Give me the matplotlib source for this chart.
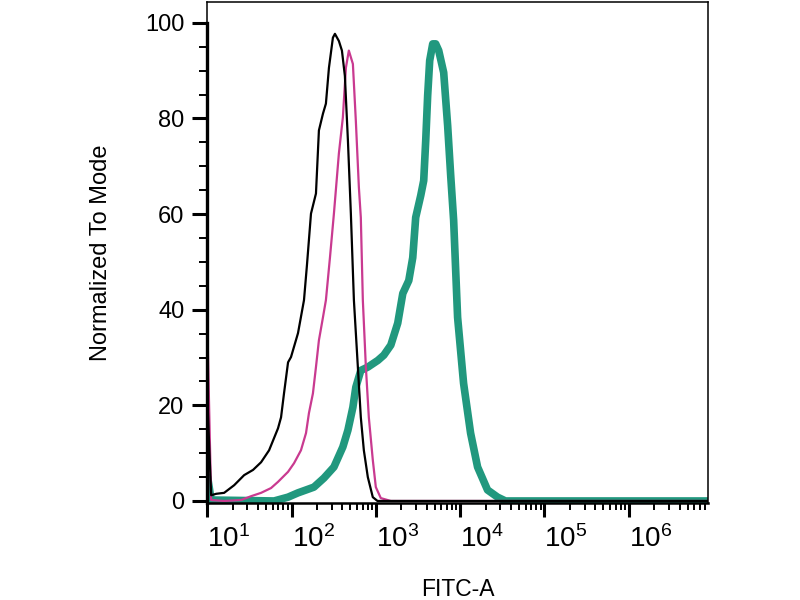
import numpy as np
import matplotlib
matplotlib.use("Agg")
import matplotlib.pyplot as plt
from matplotlib.ticker import LogLocator, MultipleLocator, NullFormatter

plt.rcParams['font.family'] = ['Liberation Sans', 'DejaVu Sans']
plt.rcParams['mathtext.fontset'] = 'custom'
plt.rcParams['mathtext.rm'] = 'Liberation Sans'
plt.rcParams['mathtext.it'] = 'Liberation Sans'

# FITC-A positions given as log10 of intensity, y as % of mode
black_log = [1.005, 1.047, 1.107, 1.201, 1.320, 1.438, 1.544, 1.639, 1.734, 1.840,
             1.876, 1.911, 1.959, 1.994, 2.077, 2.148, 2.183, 2.231, 2.290, 2.325,
             2.373, 2.408, 2.444, 2.491, 2.515, 2.562, 2.598, 2.633, 2.669, 2.704,
             2.740, 2.787, 2.822, 2.858, 2.905, 2.964, 3.02, 6.95]
black_y = [20, 1.2, 1.5, 1.7, 3.3, 5.4, 6.5, 8.1, 10.6, 15.2,
           17.5, 22.5, 29.0, 30.1, 35.1, 42.0, 49.3, 60.1, 64.3, 77.5,
           81.0, 83.1, 90.6, 96.9, 97.7, 96.2, 94.2, 88.9, 75.4, 60.1,
           42.0, 28.0, 17.5, 10.6, 5.0, 0.8, 0, 0]

magenta_log = [1.005, 1.047, 1.201, 1.402, 1.521, 1.639, 1.757, 1.840, 1.959, 2.030,
               2.112, 2.172, 2.207, 2.254, 2.290, 2.325, 2.373, 2.408, 2.456, 2.503,
               2.562, 2.609, 2.645, 2.680, 2.728, 2.763, 2.799, 2.822, 2.846, 2.882,
               2.917, 2.964, 3.0, 3.059, 3.178, 3.33, 6.95]
magenta_y = [34, 0.2, 0, 0.2, 1.0, 1.7, 2.7, 4.0, 6.1, 7.9,
             10.6, 14.2, 18.4, 22.5, 28.0, 33.6, 38.4, 42.0, 50.9, 60.1,
             72.7, 80.2, 90.6, 94.2, 91.4, 79.5, 65.6, 59.3, 42.0, 28.0,
             17.5, 8.6, 2.9, 0.6, 0, 0, 0]

teal_log = [1.005, 1.047, 1.793, 1.959, 2.077, 2.172, 2.266, 2.385, 2.503, 2.609,
            2.669, 2.728, 2.763, 2.822, 2.905, 3.024, 3.095, 3.178, 3.260, 3.320,
            3.391, 3.438, 3.473, 3.533, 3.568, 3.592, 3.615, 3.639, 3.675, 3.710,
            3.746, 3.805, 3.852, 3.888, 3.923, 3.970, 4.041, 4.124, 4.207, 4.325,
            4.444, 4.538, 6.95]
teal_y = [5, 0.2, 0, 0.8, 1.7, 2.3, 2.9, 4.8, 7.1, 11.3,
          14.8, 19.6, 23.8, 27.3, 28.0, 29.4, 30.5, 32.6, 37.2, 43.4,
          46.1, 50.9, 59.3, 63.9, 67.0, 75.4, 84.8, 92.1, 95.6, 95.6,
          94.2, 89.6, 78.5, 68.1, 58.7, 38.4, 24.6, 14.2, 7.1, 2.3,
          0.8, 0, 0]

decades = [1, 2, 3, 4, 5, 6]

fig = plt.figure(figsize=(8, 6), dpi=100)
ax = fig.add_axes([0.259, 0.1617, 0.626, 0.8353])

ax.plot(10 ** np.array(teal_log), teal_y, color="#21987e", lw=5.5, solid_capstyle="round")
ax.plot(10 ** np.array(magenta_log), magenta_y, color="#c93a90", lw=1.6)
ax.plot(10 ** np.array(black_log), black_y, color="black", lw=1.6)

ax.set_xscale("log")
ax.set_xlim(10, 10 ** 6.94)
ax.set_ylim(-0.42, 104.4)

ax.set_xticks([10.0 ** d for d in decades])
ax.set_xticklabels(["$10^{%d}$" % d for d in decades], fontsize=20)
for lab in ax.get_xticklabels():
    lab.set_horizontalalignment("left")
ax.xaxis.set_minor_locator(LogLocator(base=10, subs=np.arange(2, 10), numticks=20))
ax.xaxis.set_minor_formatter(NullFormatter())

ax.set_yticks([0, 20, 40, 60, 80, 100])
ax.yaxis.set_minor_locator(MultipleLocator(5))
ax.tick_params(axis="y", labelsize=17)

ax.tick_params(which="major", direction="out", length=10.5, width=2.2, pad=6)
ax.tick_params(which="minor", direction="out", length=6, width=1.4)
ax.tick_params(axis="x", which="major", length=10, pad=6)
ax.tick_params(axis="x", which="minor", length=5)

for s in ["top", "right"]:
    ax.spines[s].set_linewidth(1.1)
ax.spines["bottom"].set_linewidth(1.8)
ax.spines["left"].set_linewidth(2.4)
ax.spines["left"].set_bounds(-0.42, 100)
ax.plot([0, 0], [(100 + 0.42) / 104.82, 1], transform=ax.transAxes,
        color="black", lw=1.1, clip_on=False)

ax.set_xlabel("FITC-A", fontsize=16.5, labelpad=18)
ax.set_ylabel("Normalized To Mode", fontsize=17, labelpad=24)

plt.savefig("out.png", dpi=100)
plt.close()
